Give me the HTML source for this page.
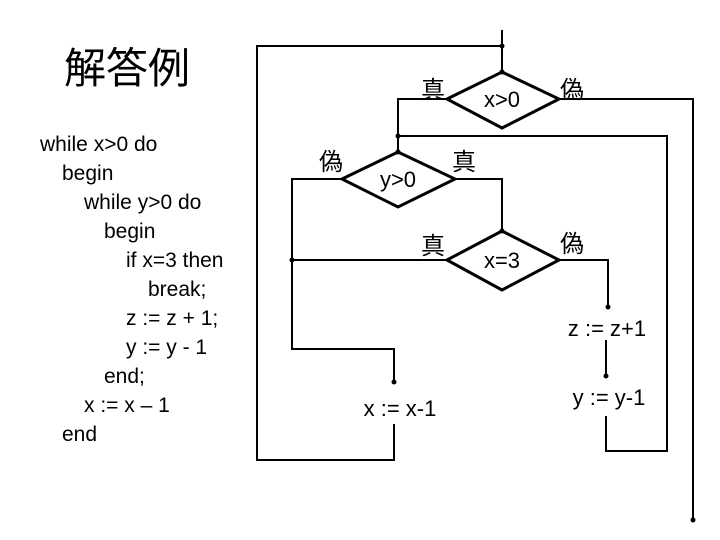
<!DOCTYPE html>
<html><head><meta charset="utf-8"><style>
body{margin:0;background:#fff}
.w{position:relative;width:720px;height:540px;overflow:hidden;font-family:"Liberation Sans","Noto Sans CJK JP",sans-serif}
.c{position:absolute;font-size:21px;line-height:22px;white-space:pre}
</style></head><body><div class="w">
<div class="c" style="left:64px;top:46px;font-size:42px;line-height:46px">解答例</div>
<div class="c" style="left:40px;top:134px">while x&gt;0 do</div>
<div class="c" style="left:62px;top:163px">begin</div>
<div class="c" style="left:84px;top:192px">while y&gt;0 do</div>
<div class="c" style="left:104px;top:221px">begin</div>
<div class="c" style="left:126px;top:250px">if x=3 then</div>
<div class="c" style="left:148px;top:279px">break;</div>
<div class="c" style="left:126px;top:308px">z := z + 1;</div>
<div class="c" style="left:126px;top:337px">y := y - 1</div>
<div class="c" style="left:104px;top:366px">end;</div>
<div class="c" style="left:84px;top:395px">x := x – 1</div>
<div class="c" style="left:62px;top:424px">end</div>
<svg width="720" height="540" style="position:absolute;left:0;top:0" font-family="Liberation Sans, Noto Sans CJK JP, sans-serif">
<g fill="none" stroke="#000" stroke-width="2">
<polyline points="502,30 502,72"/>
<polyline points="502,46 257,46 257,460 394,460 394,424"/>
<polygon points="447,99 502,72 559,99 502,128" stroke-width="3"/>
<polyline points="447,99 398,99 398,152"/>
<polyline points="559,99 693,99 693,520"/>
<polyline points="398,136 667,136 667,451 606,451 606,416"/>
<polygon points="342,179 398,152 455,179 398,207" stroke-width="3"/>
<polyline points="342,179 292,179 292,349 394,349 394,382"/>
<polyline points="455,179 502,179 502,231"/>
<polygon points="447,260 502,231 559,260 502,290" stroke-width="3"/>
<polyline points="447,260 292,260"/>
<polyline points="559,260 608,260 608,307"/>
<polyline points="606,340 606,376"/>
</g>
<g fill="#000">
<circle cx="502" cy="46" r="2.5"/><circle cx="398" cy="136" r="2.5"/><circle cx="292" cy="260" r="2.5"/>
<circle cx="693" cy="520" r="2.5"/><circle cx="394" cy="382" r="2.5"/><circle cx="608" cy="307" r="2.5"/><circle cx="606" cy="376" r="2.5"/>
<circle cx="502" cy="231" r="2.5"/><circle cx="398" cy="152" r="2.5"/><circle cx="502" cy="72" r="2.5"/>
</g>
<g font-size="22" text-anchor="middle">
<text x="502" y="107">x&gt;0</text>
<text x="398" y="187">y&gt;0</text>
<text x="502" y="268">x=3</text>
<text x="607" y="336">z := z+1</text>
<text x="609" y="405">y := y-1</text>
<text x="400" y="416">x := x-1</text>
</g>
<g font-size="24" text-anchor="middle">
<text x="433" y="98">真</text><text x="572" y="98">偽</text>
<text x="331" y="170">偽</text><text x="464" y="170">真</text>
<text x="433" y="254">真</text><text x="572" y="252">偽</text>
</g>
</svg>
</div></body></html>
